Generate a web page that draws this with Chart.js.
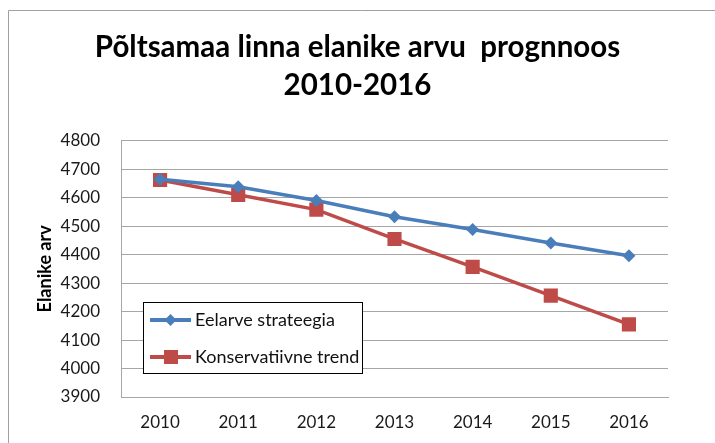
<!DOCTYPE html>
<html>
<head>
<meta charset="utf-8">
<script src="https://cdn.jsdelivr.net/npm/chart.js@4/dist/chart.umd.min.js"></script>
<style>
    html, body { margin: 0; padding: 0; background: #ffffff; }
    #wrap { width: 715px; height: 443px; position: relative; }
</style>
</head>
<body>
<div id="wrap"><canvas id="popChart"></canvas></div>
<script>
const years = ['2010', '2011', '2012', '2013', '2014', '2015', '2016'];
const eelarveValues = [4665, 4638, 4590, 4533, 4488, 4441, 4396];
const konservValues = [4662, 4610, 4558, 4455, 4357, 4256, 4155];
const seriesNames = ['Eelarve strateegia', 'Konservatiivne trend'];
const titleLines = ['Põltsamaa linna elanike arvu  prognnoos', '2010-2016'];

const BLUE = '#4a7ebb';
const RED = '#be4b48';
const GRID = '#a6a6a6';
const FONT = 'Lato, "Open Sans", sans-serif';

// outer frame + boxed legend inside plot
const framePlugin = {
    id: 'framePlugin',
    beforeDraw: function (chart) {
        const ctx = chart.ctx;
        ctx.save();
        ctx.fillStyle = '#ffffff';
        ctx.fillRect(0, 0, chart.width, chart.height);
        ctx.strokeStyle = '#a0a0a0';
        ctx.lineWidth = 1;
        ctx.beginPath();
        ctx.moveTo(8.5, chart.height);
        ctx.lineTo(8.5, 10.5);
        ctx.lineTo(chart.width, 10.5);
        ctx.stroke();
        ctx.restore();
    },
    afterDraw: function (chart) {
        const ctx = chart.ctx;
        const bx = 143, by = 302, bw = 219, bh = 71;
        ctx.save();
        ctx.fillStyle = '#ffffff';
        ctx.fillRect(bx, by, bw, bh);
        ctx.strokeStyle = '#000000';
        ctx.lineWidth = 1;
        ctx.strokeRect(bx + 0.5, by + 0.5, bw, bh);
        chart.data.datasets.forEach(function (ds, i) {
            const cy = by + 18 + i * 37;
            ctx.strokeStyle = ds.borderColor;
            ctx.lineWidth = 4;
            ctx.beginPath();
            ctx.moveTo(150, cy);
            ctx.lineTo(191, cy);
            ctx.stroke();
            ctx.fillStyle = ds.pointBackgroundColor;
            ctx.beginPath();
            if (ds.pointStyle === 'rect') {
                ctx.rect(164, cy - 7, 14, 14);
            } else {
                ctx.moveTo(170.5 - 6, cy);
                ctx.lineTo(170.5, cy - 6);
                ctx.lineTo(170.5 + 6, cy);
                ctx.lineTo(170.5, cy + 6);
                ctx.closePath();
            }
            ctx.fill();
            ctx.fillStyle = '#111111';
            ctx.font = '18px ' + FONT;
            ctx.textBaseline = 'middle';
            ctx.textAlign = 'left';
            ctx.fillText(ds.label, 195, cy);
        });
        ctx.restore();
    }
};

const data = {
    labels: years,
    datasets: [{
        label: seriesNames[0],
        data: eelarveValues,
        borderColor: BLUE,
        backgroundColor: BLUE,
        pointBackgroundColor: BLUE,
        pointBorderWidth: 0,
        pointStyle: 'rectRot',
        pointRadius: 6.5,
        borderWidth: 3.5,
        tension: 0
    }, {
        label: seriesNames[1],
        data: konservValues,
        borderColor: RED,
        backgroundColor: RED,
        pointBackgroundColor: RED,
        pointBorderWidth: 0,
        pointStyle: 'rect',
        pointRadius: 10,
        borderWidth: 3.5,
        tension: 0
    }]
};

const config = {
    type: 'line',
    data: data,
    plugins: [framePlugin],
    options: {
        responsive: false,
        animation: false,
        devicePixelRatio: 1,
        layout: { padding: 0 },
        plugins: {
            legend: { display: false },
            tooltip: { enabled: false },
            title: {
                display: true,
                text: titleLines,
                color: '#000000',
                font: { family: FONT, size: 29.5, weight: 'bold', lineHeight: 1.3 },
                padding: { top: 28, bottom: 36 }
            }
        },
        scales: {
            x: {
                offset: true,
                grid: { display: false, drawTicks: false },
                border: { display: true, color: GRID, width: 1 },
                ticks: {
                    color: '#1a1a1a',
                    padding: 15,
                    font: { family: FONT, size: 17 },
                    maxRotation: 0
                },
                afterFit: function (scale) { scale.height = 46; }
            },
            y: {
                min: 3900,
                max: 4800,
                grid: { color: GRID, lineWidth: 1, drawTicks: false },
                border: { display: true, color: GRID, width: 1 },
                ticks: {
                    stepSize: 100,
                    color: '#1a1a1a',
                    padding: 21,
                    font: { family: FONT, size: 17 },
                    callback: function (value) { return String(value); }
                },
                title: {
                    display: true,
                    text: 'Elanike arv',
                    color: '#000000',
                    font: { family: FONT, size: 18, weight: 'bold' },
                    padding: { top: 34, bottom: 0 }
                },
                afterFit: function (scale) { scale.width = 121; }
            },
            // empty right-hand strip so the plot stops short of the edge
            yRight: {
                position: 'right',
                grid: { display: false, drawTicks: false },
                border: { display: false },
                ticks: { display: false },
                afterFit: function (scale) { scale.width = 47; }
            }
        }
    }
};

window.onload = function () {
    const canvas = document.getElementById('popChart');
    canvas.width = 715;
    canvas.height = 443;
    new Chart(canvas.getContext('2d'), config);
};
</script>
</body>
</html>
